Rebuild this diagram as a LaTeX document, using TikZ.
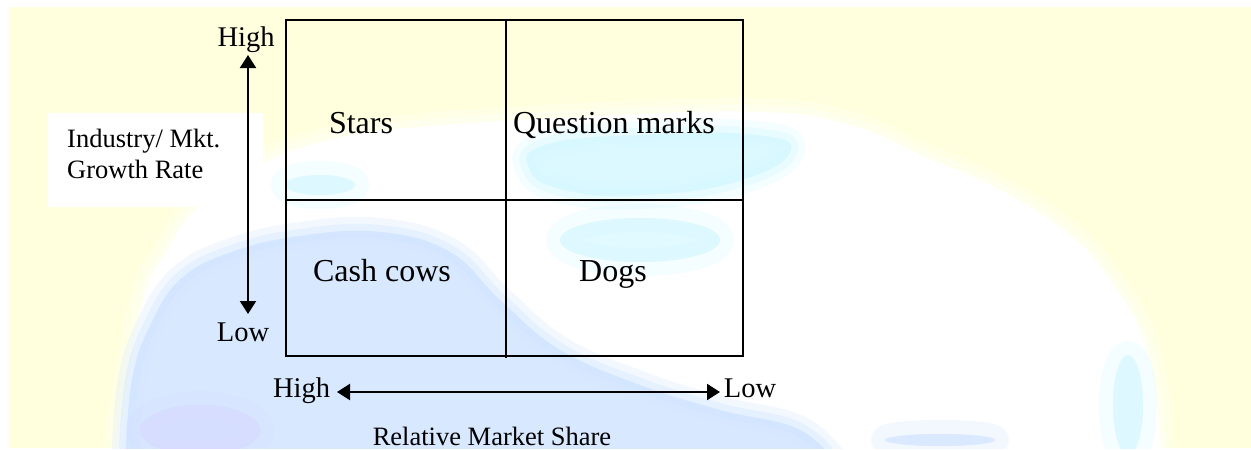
\documentclass[tikz,border=0pt]{standalone}
\usepackage{fontspec}
\setmainfont{Liberation Serif}
\usetikzlibrary{arrows.meta}
\definecolor{bgyellow}{RGB}{255,255,221}
\definecolor{globeblue}{RGB}{208,228,255}
\definecolor{globecyan}{RGB}{212,248,255}
\definecolor{globelav}{RGB}{214,218,255}
\begin{document}
\begin{tikzpicture}[x=1pt,y=-1pt,
  axislbl/.style={font=\fontsize{28.5}{30}\selectfont, inner sep=0pt, anchor=base},
  celllbl/.style={font=\fontsize{32}{34}\selectfont, inner sep=0pt, anchor=base},
  titlelbl/.style={font=\fontsize{26.5}{31}\selectfont, inner sep=0pt},
  gridline/.style={line width=1.5pt},
  axisarrow/.style={line width=2.2pt, {Triangle[length=13pt,width=16pt]}-{Triangle[length=13pt,width=16pt]}},
  soft1/.style={draw=#1, fill=#1, line width=28pt, opacity=0.25, line join=round},
  soft2/.style={draw=#1, fill=#1, line width=14pt, opacity=0.35, line join=round},
  soft3/.style={fill=#1, opacity=0.6}]
\useasboundingbox (0,0) rectangle (1251,450);
\fill[white] (0,0) rectangle (1251,450);
\fill[bgyellow] (9,7) rectangle (1251,448);
% globe background
\begin{scope}
\clip (9,7) rectangle (1251,448);
\def\globe{plot[smooth, tension=0.7] coordinates {(115,470) (125,400) (143,300) (167,250) (200,205) (260,165) (330,140) (420,127) (600,116) (760,112) (850,125) (920,155) (1000,190) (1070,235) (1110,280) (1140,330) (1155,390) (1162,470)} -- cycle}
\path[soft1=white] \globe;
\path[soft2=white] \globe;
\fill[white] \globe;
\def\land{plot[smooth, tension=0.7] coordinates {(125,470) (132,380) (152,322) (182,278) (232,252) (300,236) (380,232) (450,252) (500,300) (560,350) (640,385) (720,410) (800,430) (840,470)} -- cycle}
\path[soft1=globeblue] \land;
\path[soft2=globeblue] \land;
\path[soft3=globeblue] \land;
\path[soft1=globelav] (200,430) ellipse (60pt and 25pt);
\path[soft3=globelav] (200,430) ellipse (60pt and 25pt);
\def\cyanA{plot[smooth cycle, tension=0.8] coordinates {(545,145) (640,135) (755,135) (790,152) (735,182) (640,195) (565,190) (530,170)}}
\path[soft1=globecyan] \cyanA;
\path[soft2=globecyan] \cyanA;
\path[soft3=globecyan] \cyanA;
\path[soft1=globecyan] (640,240) ellipse (80pt and 22pt);
\path[soft3=globecyan] (640,240) ellipse (80pt and 22pt);
\path[soft1=globecyan] (320,185) ellipse (35pt and 10pt);
\path[soft3=globecyan] (320,185) ellipse (35pt and 10pt);
\path[soft1=globecyan] (1128,405) ellipse (15pt and 50pt);
\path[soft3=globecyan] (1128,405) ellipse (15pt and 50pt);
\path[soft1=globeblue] (940,440) ellipse (55pt and 6pt);
\path[soft3=globeblue] (940,440) ellipse (55pt and 6pt);
\fill[white, opacity=0.5] (600,305) ellipse (40pt and 22pt);
\end{scope}
% y-axis label box
\node[fill=white, minimum width=215pt, minimum height=94pt, inner sep=0pt, anchor=north west] (ybox) at (48,113) {};
\node[titlelbl, anchor=base west] (ylab1) at (67,147) {Industry/ Mkt.};
\node[titlelbl, anchor=base west] (ylab2) at (67,178) {Growth Rate};
% matrix
\node[draw, gridline, minimum width=457pt, minimum height=336pt, inner sep=0pt, anchor=north west] (grid) at (285,19) {};
\draw[gridline] (506,21) -- (506,358);
\draw[gridline] (285,200) -- (743,200);
\node[celllbl] (stars) at (361,133) {Stars};
\node[celllbl] (qm) at (614,133) {Question marks};
\node[celllbl] (cows) at (382,281) {Cash cows};
\node[celllbl] (dogs) at (613,281) {Dogs};
% vertical axis
\node[axislbl] (vhigh) at (246,46) {High};
\node[axislbl] (vlow) at (243,341) {Low};
\coordinate (vtop) at (248,55);
\coordinate (vbot) at (248,314);
\draw[axisarrow] (vtop) -- (vbot);
% horizontal axis
\node[axislbl] (hhigh) at (301.5,397) {High};
\node[axislbl] (hlow) at (750,397) {Low};
\coordinate (hleft) at (337,392);
\coordinate (hright) at (720,392);
\draw[axisarrow] (hleft) -- (hright);
\node[titlelbl, anchor=base] (xlab) at (492,445) {Relative Market Share};
\end{tikzpicture}
\end{document}
